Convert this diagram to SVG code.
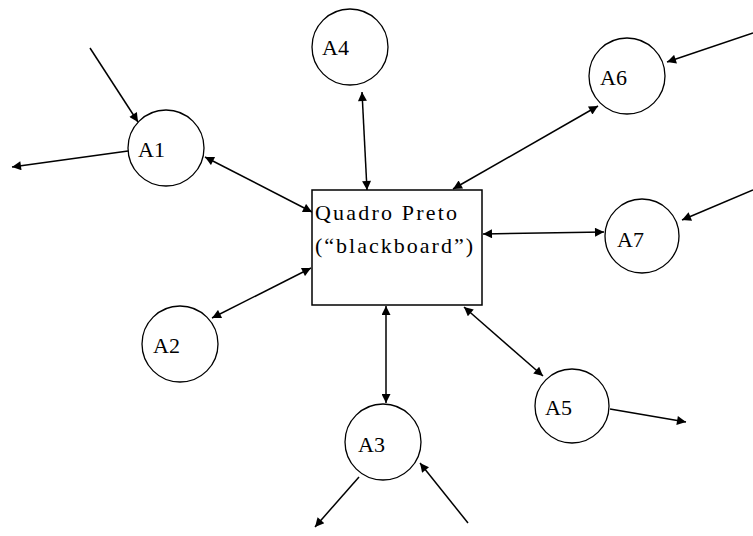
<svg xmlns="http://www.w3.org/2000/svg" width="753" height="536" viewBox="0 0 753 536">
  <style>
    .agent { fill: #fff; stroke: #000; stroke-width: 1.3; }
    .board { fill: #fff; stroke: #000; stroke-width: 1.5; }
    .label { font-family: "Liberation Serif", "Times New Roman", serif; font-size: 22px; fill: #000; }
    .link { stroke: #000; stroke-width: 1.5; fill: none; }
    .one { marker-end: url(#head); }
    .two { marker-start: url(#head); marker-end: url(#head); }
  </style>
  <defs>
    <marker id="head" viewBox="0 0 10 10" refX="10" refY="5" markerWidth="11" markerHeight="9" markerUnits="userSpaceOnUse" orient="auto-start-reverse">
      <path d="M0,0 L10,5 L0,10 Z" fill="#000"/>
    </marker>
  </defs>

  <rect width="753" height="536" fill="#fff"/>

  <g id="connectors">
    <line class="link one" x1="90" y1="48" x2="138" y2="122"/>
    <line class="link one" x1="128" y1="151" x2="12" y2="167"/>
    <line class="link two" x1="205" y1="157" x2="312" y2="212"/>
    <line class="link two" x1="212" y1="318" x2="311" y2="268"/>
    <line class="link two" x1="362" y1="92" x2="367" y2="190"/>
    <line class="link two" x1="453" y1="189" x2="598" y2="106"/>
    <line class="link one" x1="753" y1="33" x2="667" y2="62"/>
    <line class="link two" x1="483" y1="234" x2="604" y2="232"/>
    <line class="link one" x1="753" y1="190" x2="682" y2="220"/>
    <line class="link two" x1="464" y1="307" x2="543" y2="376"/>
    <line class="link one" x1="610" y1="409" x2="686" y2="422"/>
    <line class="link two" x1="386" y1="306" x2="386" y2="403"/>
    <line class="link one" x1="359" y1="477" x2="315" y2="527"/>
    <line class="link one" x1="468" y1="523" x2="420" y2="463"/>
  </g>

  <g id="blackboard">
    <rect class="board" x="312" y="190" width="170" height="115"/>
    <text class="label" x="315" y="220" textLength="142" lengthAdjust="spacing">Quadro Preto</text>
    <text class="label" x="315" y="253" textLength="158" lengthAdjust="spacing">(“blackboard”)</text>
  </g>

  <g id="A1">
    <circle class="agent" cx="166" cy="148" r="38"/>
    <text class="label" x="138" y="157">A1</text>
  </g>
  <g id="A2">
    <circle class="agent" cx="180" cy="344" r="38"/>
    <text class="label" x="153" y="353">A2</text>
  </g>
  <g id="A3">
    <circle class="agent" cx="383" cy="442" r="38"/>
    <text class="label" x="358" y="452">A3</text>
  </g>
  <g id="A4">
    <circle class="agent" cx="350" cy="47" r="38"/>
    <text class="label" x="322" y="55">A4</text>
  </g>
  <g id="A5">
    <circle class="agent" cx="572" cy="406" r="37"/>
    <text class="label" x="545" y="415">A5</text>
  </g>
  <g id="A6">
    <circle class="agent" cx="627" cy="76" r="38"/>
    <text class="label" x="600" y="85">A6</text>
  </g>
  <g id="A7">
    <circle class="agent" cx="642" cy="236" r="37"/>
    <text class="label" x="617" y="247">A7</text>
  </g>
</svg>
